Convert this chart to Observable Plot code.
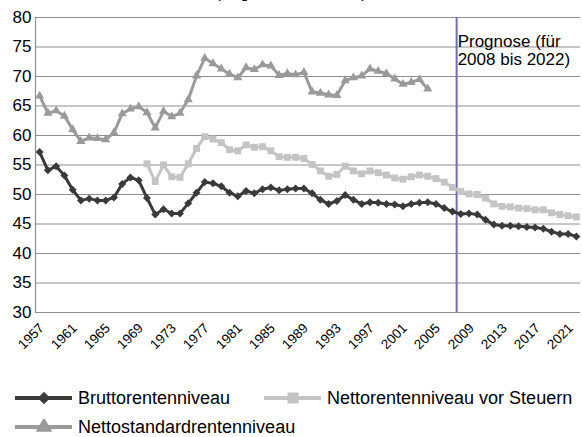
<!DOCTYPE html>
<html>
<head>
<meta charset="utf-8">
<script src="https://cdn.jsdelivr.net/npm/d3@7"></script>
<script src="https://cdn.jsdelivr.net/npm/@observablehq/plot@0.6"></script>
<style>
  html, body { margin: 0; padding: 0; background: #fff; }
  body { width: 582px; height: 437px; position: relative; overflow: hidden;
         font-family: "Liberation Sans", Arial, Helvetica, sans-serif; color: #000; }
  #title { position: absolute; top: -16px; left: 0; width: 582px; text-align: center;
           font-size: 16px; line-height: 18px; }
  #chart { position: absolute; top: 0; left: 0; width: 582px; height: 352px; }
  .xlab { position: absolute; width: 40px; height: 16px; line-height: 16px; font-size: 13.5px;
          text-align: right; white-space: nowrap; transform-origin: 100% 50%;
          transform: rotate(-45deg); }
  .leg { position: absolute; display: flex; align-items: center; font-size: 18px; line-height: 20px; }
  .leg svg { margin-right: 6px; }
</style>
</head>
<body>
<div id="title">(Angaben in Prozent)</div>
<div id="chart"></div>
<div class="leg" id="leg1" style="left:15px; top:388px;"></div>
<div class="leg" id="leg2" style="left:264px; top:388px;"></div>
<div class="leg" id="leg3" style="left:15px; top:417px;"></div>
<script>
// ---- data ----
const bruttoStart = 1957;
const brutto = [57.2, 54.1, 54.8, 53.2, 50.8, 49.0, 49.3, 49.0, 49.0, 49.5,
  51.8, 52.9, 52.4, 49.4, 46.6, 47.5, 46.8, 46.8, 48.5, 50.3,
  52.1, 51.9, 51.4, 50.3, 49.7, 50.6, 50.2, 50.9, 51.2, 50.7,
  50.9, 51.0, 51.0, 50.2, 49.1, 48.4, 48.9, 49.9, 49.1, 48.4,
  48.7, 48.6, 48.4, 48.3, 48.0, 48.4, 48.6, 48.7, 48.4, 47.7,
  47.1, 46.7, 46.8, 46.6, 45.7, 44.9, 44.7, 44.7, 44.6, 44.5,
  44.4, 44.2, 43.7, 43.3, 43.3, 42.9];

const nettoStart = 1970;
const netto = [55.2, 52.2, 55.0, 53.0, 52.9, 55.2, 57.8, 59.8, 59.4, 58.8,
  57.6, 57.4, 58.4, 58.0, 58.1, 57.4, 56.4, 56.3, 56.3, 56.1,
  55.1, 54.0, 53.1, 53.4, 54.8, 54.0, 53.5, 54.0, 53.7, 53.3,
  52.8, 52.6, 53.0, 53.3, 53.1, 52.7, 52.1, 51.2, 50.5, 50.1,
  50.0, 49.4, 48.4, 48.0, 47.9, 47.7, 47.6, 47.4, 47.4, 46.9,
  46.6, 46.4, 46.2];

const standardStart = 1957;
const standard = [66.7, 63.8, 64.2, 63.3, 61.0, 59.0, 59.6, 59.5, 59.3, 60.5,
  63.7, 64.5, 64.9, 63.9, 61.3, 64.1, 63.2, 63.8, 66.1, 70.1,
  73.1, 72.2, 71.3, 70.4, 69.8, 71.5, 71.2, 72.0, 71.8, 70.2,
  70.5, 70.3, 70.7, 67.4, 67.2, 66.9, 66.8, 69.3, 69.8, 70.1,
  71.3, 70.9, 70.5, 69.6, 68.7, 69.0, 69.5, 67.9];

const seriesNames = ["Bruttorentenniveau", "Nettorentenniveau vor Steuern", "Nettostandardrentenniveau"];
const yTicks = [30, 35, 40, 45, 50, 55, 60, 65, 70, 75, 80];
const xTickYears = [1957, 1961, 1965, 1969, 1973, 1977, 1981, 1985, 1989, 1993, 1997, 2001, 2005, 2009, 2013, 2017, 2021];
const firstYear = 1957, lastYear = 2022;
const forecastStart = 2008;
const forecastLabel = "Prognose (für\n2008 bis 2022)";

// ---- build tables ----
const toRows = (vals, start) => vals.map((v, i) => ({year: start + i, value: v}));
const bruttoRows = toRows(brutto, bruttoStart);
const nettoRows = toRows(netto, nettoStart);
const standardRows = toRows(standard, standardStart);

const C = {brutto: "#3a3a3a", netto: "#c4c4c4", standard: "#9a9a9a", grid: "#8f8f8f", forecast: "#6f6fb9"};
const FONT = "'Liberation Sans', Arial, Helvetica, sans-serif";

const chart = Plot.plot({
  width: 582,
  height: 352,
  marginLeft: 35,
  marginRight: 2,
  marginTop: 17,
  marginBottom: 40,
  style: {fontFamily: FONT, fontSize: "16px", color: "#000", background: "transparent"},
  x: {domain: [firstYear - 0.5, lastYear + 0.5], axis: null, label: null},
  y: {domain: [30, 80], axis: null, label: null},
  marks: [
    Plot.gridY(yTicks, {stroke: C.grid, strokeOpacity: 1, strokeWidth: 1.2}),
    Plot.ruleX([firstYear - 0.5], {stroke: C.grid, strokeWidth: 1.2}),
    Plot.text(yTicks, {x: firstYear - 0.5, y: d => d, text: d => String(d), textAnchor: "end", dx: -4, fontSize: 17, fill: "#000"}),
    Plot.ruleX([forecastStart - 0.5], {stroke: C.forecast, strokeWidth: 2}),
    Plot.text([forecastLabel], {x: forecastStart - 0.5, y: 80, text: d => d, textAnchor: "start", lineAnchor: "top", dx: 1, dy: 16, fontSize: 17, lineHeight: 1.08, fill: "#000"}),
    Plot.line(standardRows, {x: "year", y: "value", stroke: C.standard, strokeWidth: 3}),
    Plot.dot(standardRows, {x: "year", y: "value", symbol: "triangle", fill: C.standard, r: 3.4}),
    Plot.line(nettoRows, {x: "year", y: "value", stroke: C.netto, strokeWidth: 3}),
    Plot.dot(nettoRows, {x: "year", y: "value", symbol: "square", fill: C.netto, r: 3.9}),
    Plot.line(bruttoRows, {x: "year", y: "value", stroke: C.brutto, strokeWidth: 3}),
    Plot.dot(bruttoRows, {x: "year", y: "value", symbol: "diamond2", fill: C.brutto, r: 3.6})
  ]
});
const chartDiv = document.getElementById("chart");
chartDiv.appendChild(chart);

// ---- rotated x tick labels (HTML), positioned through Plot's own scales ----
function scaleFn(name) {
  const s = chart.scale(name);
  if (s && typeof s.apply === "function") return v => s.apply(v);
  return d3.scaleLinear(s.domain, s.range);
}
const xs = scaleFn("x"), ys = scaleFn("y");
xTickYears.forEach(yr => {
  const d = document.createElement("div");
  d.className = "xlab";
  d.textContent = String(yr);
  d.style.left = (xs(yr) + 3 - 40) + "px";
  d.style.top = (ys(30) + 14 - 8) + "px";
  chartDiv.appendChild(d);
});

// ---- legend ----
function swatch(color, symbolType, size) {
  const svg = d3.create("svg").attr("width", 57).attr("height", 16);
  svg.append("line").attr("x1", 0).attr("x2", 57).attr("y1", 8).attr("y2", 8)
    .attr("stroke", color).attr("stroke-width", 4);
  svg.append("path").attr("transform", "translate(29,8)")
    .attr("d", d3.symbol(symbolType, size)()).attr("fill", color);
  return svg.node();
}
const legendDefs = [
  ["leg1", C.brutto, d3.symbolDiamond2, 100],
  ["leg2", C.netto, d3.symbolSquare, 120],
  ["leg3", C.standard, d3.symbolTriangle, 120]
];
legendDefs.forEach(([id, color, sym, size], i) => {
  const el = document.getElementById(id);
  el.appendChild(swatch(color, sym, size));
  const span = document.createElement("span");
  span.textContent = seriesNames[i];
  el.appendChild(span);
});
</script>
</body>
</html>
